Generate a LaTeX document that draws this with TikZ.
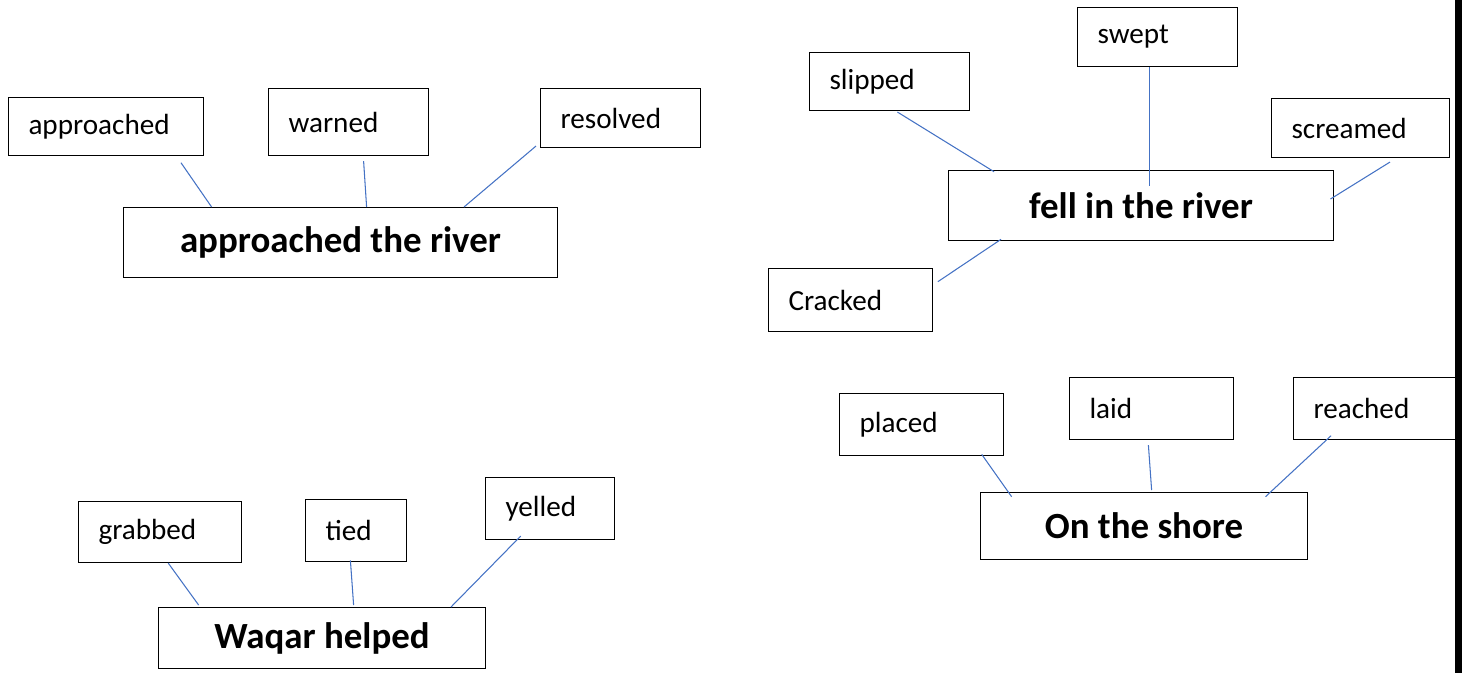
\documentclass[tikz,border=0pt]{standalone}
\usepackage{fontspec}
\setmainfont{Carlito}
\usepackage{tikz}
\usetikzlibrary{calc,positioning}
\usepackage{xcolor}
\definecolor{linkc}{RGB}{68,114,196}
\newcommand{\wordfont}{\fontsize{16.6}{20}\selectfont}
\newcommand{\eventfont}{\fontsize{21}{25}\selectfont\bfseries}
\tikzset{
  word/.style={rectangle,draw=black,line width=0.6pt,anchor=north west,inner xsep=0.4cm,inner ysep=0pt,align=left,font=\wordfont},
  event/.style={rectangle,draw=black,line width=0.6pt,anchor=north west,inner sep=0pt,font=\eventfont},
  link/.style={linkc,line width=0.6pt},
}

\begin{document}
\begin{tikzpicture}[x=0.02cm,y=-0.02cm]
  \useasboundingbox (0,0) rectangle (1462,673);
  % approached the river
  \node[event,minimum width=8.68cm,minimum height=1.4cm](riverA) at (123,207){approached the river};
  \node[word,text width=3.1cm,minimum height=1.16cm](appr) at (8,97){approached};
  \node[word,text width=2.4cm,minimum height=1.34cm](warn) at (268,88){warned};
  \node[word,text width=2.4cm,minimum height=1.18cm](reso) at (540,88){resolved};
  \draw[link] ([shift={(173,6.7)}]appr.south west) -- ([shift={(88.6,0)}]riverA.north west);
  \draw[link] ([shift={(95.6,5)}]warn.south west) -- ([shift={(243.6,0)}]riverA.north west);
  \draw[link] ([shift={(-4,-2)}]reso.south west) -- ([shift={(341,0)}]riverA.north west);
  % fell in the river
  \node[event,minimum width=7.7cm,minimum height=1.4cm](fell) at (948,170){fell in the river};
  \node[word,text width=2.4cm,minimum height=1.16cm](slip) at (809,52){slipped};
  \node[word,text width=2.4cm,minimum height=1.18cm](swep) at (1077,7){swept};
  \node[word,text width=2.76cm,minimum height=1.18cm](scre) at (1271,98){screamed};
  \node[word,text width=2.48cm,minimum height=1.26cm](crac) at (768,268){Cracked};
  \draw[link] ([shift={(88.4,1)}]slip.south west) -- ([shift={(46,1.7)}]fell.north west);
  \draw[link] ([shift={(72.5,0)}]swep.south west) -- ([shift={(201.5,15.7)}]fell.north west);
  \draw[link] ([shift={(119,4)}]scre.south west) -- ([shift={(-3.5,29)}]fell.north east);
  \draw[link] ([shift={(4.8,13.7)}]crac.north east) -- ([shift={(53,-1.7)}]fell.south west);
  % Waqar helped
  \node[event,minimum width=6.54cm,minimum height=1.22cm](waqr) at (158,607){Waqar helped};
  \node[word,text width=2.46cm,minimum height=1.22cm](grab) at (78,501){grabbed};
  \node[word,text width=1.22cm,minimum height=1.24cm](tied) at (305,499){tied};
  \node[word,text width=1.78cm,minimum height=1.24cm](yell) at (485,477){yelled};
  \draw[link] ([shift={(90.2,0)}]grab.south west) -- ([shift={(40.6,-2)}]waqr.north west);
  \draw[link] ([shift={(45.4,-1.7)}]tied.south west) -- ([shift={(195.6,-2)}]waqr.north west);
  \draw[link] ([shift={(35.7,-4)}]yell.south west) -- ([shift={(293,0)}]waqr.north west);
  % On the shore
  \node[event,minimum width=6.54cm,minimum height=1.34cm](shor) at (980,492){On the shore};
  \node[word,text width=2.48cm,minimum height=1.24cm](plac) at (839,393){placed};
  \node[word,text width=2.48cm,minimum height=1.24cm](laid) at (1069,377){laid};
  \node[word,text width=2.48cm,minimum height=1.24cm](reac) at (1293,377){reached};
  \draw[link] ([shift={(142.7,-1.7)}]plac.south west) -- ([shift={(31.6,4.7)}]shor.north west);
  \draw[link] ([shift={(79.4,5)}]laid.south west) -- ([shift={(171.6,-2)}]shor.north west);
  \draw[link] ([shift={(38,-4.3)}]reac.south west) -- ([shift={(285.5,4.7)}]shor.north west);
  % right edge
  \fill[black] (1455,0) rectangle (1462,673);
\end{tikzpicture}
\end{document}
